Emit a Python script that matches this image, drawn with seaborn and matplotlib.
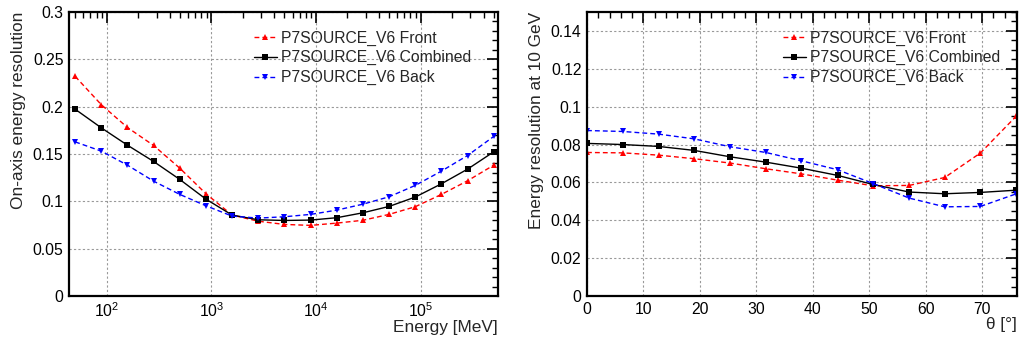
import numpy as np
import pandas as pd
import matplotlib
matplotlib.use("Agg")
import matplotlib.pyplot as plt
import seaborn as sns
from matplotlib.ticker import MultipleLocator, LogLocator, LogFormatterMathtext, FormatStrFormatter, NullFormatter

# ---------------- data ----------------
energy_mev = [50, 89, 158, 281, 500, 889, 1581, 2812, 5000, 8891, 15811,
              28117, 50000, 88914, 158114, 281171, 500000]
eres_front = [0.232, 0.202, 0.178, 0.159, 0.135, 0.108, 0.0855, 0.079, 0.0756,
              0.0746, 0.077, 0.080, 0.0862, 0.0943, 0.1073, 0.1217, 0.1382]
eres_comb = [0.1973, 0.1776, 0.1593, 0.1421, 0.1231, 0.1023, 0.0855, 0.0805,
             0.0798, 0.0802, 0.0827, 0.0879, 0.0946, 0.1045, 0.1185, 0.134, 0.1523]
eres_back = [0.1628, 0.153, 0.1382, 0.1213, 0.1073, 0.0953, 0.0844, 0.0823,
             0.0837, 0.0862, 0.0907, 0.097, 0.1048, 0.1168, 0.1319, 0.1484, 0.1685]

theta_deg = [0.0, 6.34, 12.68, 19.0, 25.4, 31.7, 38.0, 44.4, 50.7, 57.1, 63.4, 69.7, 76.1]
theta_front = [0.0758, 0.0756, 0.0744, 0.0725, 0.0702, 0.0672, 0.0645, 0.0612,
               0.0582, 0.0584, 0.0626, 0.0755, 0.0951]
theta_comb = [0.0806, 0.0800, 0.0790, 0.0769, 0.0735, 0.0707, 0.0675, 0.0637,
              0.0589, 0.0549, 0.0540, 0.0547, 0.0559]
theta_back = [0.0874, 0.0869, 0.0855, 0.0830, 0.0788, 0.0758, 0.0714, 0.0667,
              0.0594, 0.0517, 0.0471, 0.0473, 0.0540]

labels = ["P7SOURCE_V6 Front", "P7SOURCE_V6 Combined", "P7SOURCE_V6 Back"]

# ---------------- style ----------------
sns.set_theme(style="white")
plt.rcParams['font.family'] = ['Liberation Sans', 'DejaVu Sans']
plt.rcParams['mathtext.fontset'] = 'custom'
plt.rcParams['mathtext.rm'] = 'Liberation Sans'
plt.rcParams['mathtext.it'] = 'Liberation Sans:italic'

FS = 11.3
LFS = 12.4
dash = (0, (3.5, 2.2))
styles = [
    dict(color="#ff0000", marker="^", linestyle=dash),
    dict(color="black", marker="s", linestyle="-"),
    dict(color="#0000ff", marker="v", linestyle=dash),
]

fig = plt.figure(figsize=(10.19, 3.41), dpi=100)
ax1 = fig.add_axes([69 / 1019, 1 - 296 / 341, (498 - 69) / 1019, (296 - 12) / 341])
ax2 = fig.add_axes([587 / 1019, 1 - 296 / 341, (1017 - 587) / 1019, (296 - 12) / 341])


def draw(ax, x, series):
    for y, lab, st in zip(series, labels, styles):
        df = pd.DataFrame({"x": x, "y": y})
        sns.lineplot(data=df, x="x", y="y", ax=ax, label=lab, color=st["color"],
                     marker=st["marker"], linestyle=st["linestyle"], linewidth=1.0,
                     markersize=4.6, markeredgewidth=0, markeredgecolor=st["color"])


def style_axes(ax, legx):
    for sp in ax.spines.values():
        sp.set_linewidth(1.6)
        sp.set_color("black")
    ax.tick_params(which="both", direction="in", top=True, right=True,
                   labelsize=FS, colors="black", pad=4)
    ax.tick_params(which="major", length=8, width=1.2)
    ax.tick_params(which="minor", length=4, width=1.0)
    ax.grid(True, which="major", linestyle=(0, (2, 2)), color="#999999", linewidth=0.8)
    ax.set_axisbelow(True)
    leg = ax.legend(loc="upper left", bbox_to_anchor=(legx, 0.935), frameon=False,
                    fontsize=FS, handlelength=1.45, handletextpad=0.25,
                    labelspacing=0.3, borderpad=0, borderaxespad=0)
    return leg


# Left panel
draw(ax1, energy_mev, [eres_front, eres_comb, eres_back])
ax1.set_xscale("log")
ax1.set_xlim(10 ** 1.64, 10 ** 5.74)
ax1.set_ylim(0, 0.3)
ax1.yaxis.set_major_locator(MultipleLocator(0.05))
ax1.yaxis.set_minor_locator(MultipleLocator(0.01))
ax1.yaxis.set_major_formatter(FormatStrFormatter("%g"))
ax1.xaxis.set_major_locator(LogLocator(base=10, numticks=10))
ax1.xaxis.set_minor_locator(LogLocator(base=10, subs=np.arange(2, 10), numticks=20))
ax1.xaxis.set_major_formatter(LogFormatterMathtext())
ax1.xaxis.set_minor_formatter(NullFormatter())
style_axes(ax1, 0.431)
ax1.set_xlabel("Energy [MeV]", fontsize=LFS, loc="right", labelpad=0)
ax1.set_ylabel("On-axis energy resolution", fontsize=LFS, loc="top", labelpad=5)

# Right panel
draw(ax2, theta_deg, [theta_front, theta_comb, theta_back])
ax2.set_xlim(0, 76.2)
ax2.set_ylim(0, 0.15)
ax2.yaxis.set_major_locator(MultipleLocator(0.02))
ax2.yaxis.set_minor_locator(MultipleLocator(0.005))
ax2.yaxis.set_major_formatter(FormatStrFormatter("%g"))
ax2.xaxis.set_major_locator(MultipleLocator(10))
ax2.xaxis.set_minor_locator(MultipleLocator(2))
style_axes(ax2, 0.456)
ax2.set_xlabel("θ [°]", fontsize=LFS, loc="right", labelpad=0)
ax2.set_ylabel("Energy resolution at 10 GeV", fontsize=LFS, loc="top", labelpad=5)

fig.savefig("out.png", dpi=100)
